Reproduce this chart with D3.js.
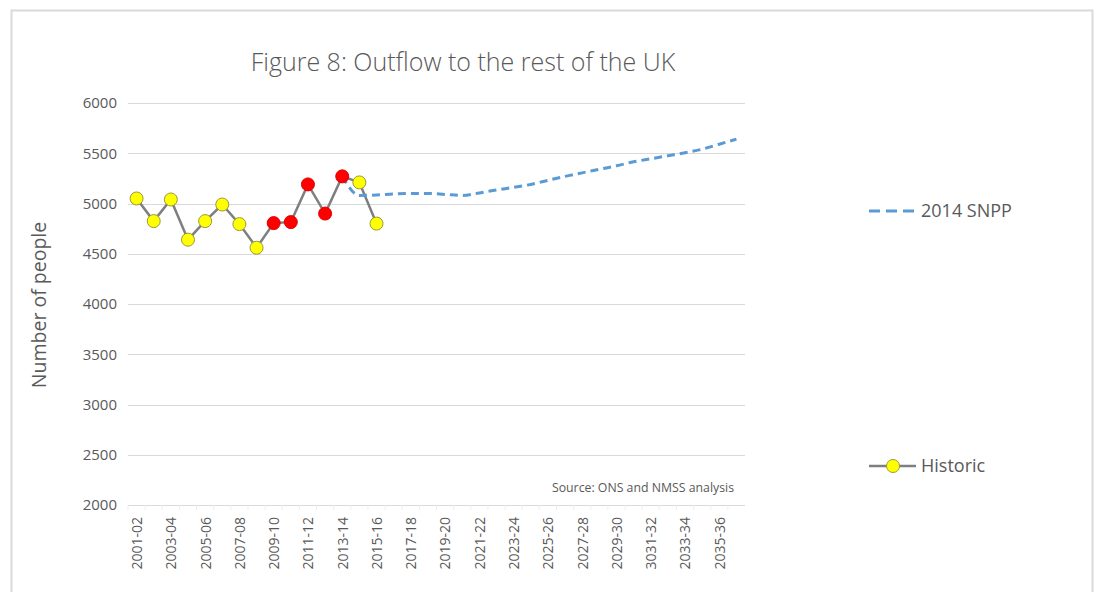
<!DOCTYPE html>
<html>
<head>
<meta charset="utf-8">
<script src="https://cdn.jsdelivr.net/npm/d3@7"></script>
<style>
  body { margin: 0; background: #fff; }
  text { font-family: "Open Sans", sans-serif; fill: #595959; }
</style>
</head>
<body>
<div id="wrapper"></div>
<script>
const HIST_LINE = "#7f7f7f";
const YELLOW = "#ffff00";
const RED = "#ff0000";
const SNPP_COLOR = "#5b9bd5";
const GRID_COLOR = "#d9d9d9";

// all periods on the x axis
const periods = [
  "2001-02", "2002-03", "2003-04", "2004-05", "2005-06", "2006-07",
  "2007-08", "2008-09", "2009-10", "2010-11", "2011-12", "2012-13",
  "2013-14", "2014-15", "2015-16", "2016-17", "2017-18", "2018-19",
  "2019-20", "2020-21", "2021-22", "2022-23", "2023-24", "2024-25",
  "2025-26", "2026-27", "2027-28", "2028-29", "2029-30", "2030-31",
  "2031-32", "2032-33", "2033-34", "2034-35", "2035-36", "2036-37"
];

// only every other period gets a label (typo kept from the original)
const tickPeriods = [
  "2001-02", "2003-04", "2005-06", "2007-08", "2009-10", "2011-12",
  "2013-14", "2015-16", "2017-18", "2019-20", "2021-22", "2023-24",
  "2025-26", "2027-28", "2029-30", "2031-32", "2033-34", "2035-36"
];
const tickLabels = [
  "2001-02", "2003-04", "2005-06", "2007-08", "2009-10", "2011-12",
  "2013-14", "2015-16", "2017-18", "2019-20", "2021-22", "2023-24",
  "2025-26", "2027-28", "2029-30", "3031-32", "2033-34", "2035-36"
];

const yTicks = [2000, 2500, 3000, 3500, 4000, 4500, 5000, 5500, 6000];

const historicPeriods = periods.slice(0, 15);
const historicValues = [5050, 4825, 5040, 4640, 4825, 4990, 4795, 4560,
  4805, 4815, 5190, 4900, 5270, 5210, 4800];
// points shown in red
const redPeriods = ["2009-10", "2010-11", "2011-12", "2012-13", "2013-14"];

const snppPeriods = periods.slice(12);
const snppValues = [5270, 5080, 5085, 5095, 5100, 5100, 5090, 5080, 5105,
  5135, 5160, 5190, 5230, 5270, 5305, 5340, 5375, 5415, 5445, 5475, 5505,
  5540, 5590, 5640];

function drawChart() {
  let dimensions = {
    width: 1098,
    height: 592,
    margin: { top: 103, right: 353, bottom: 87, left: 128 }
  };
  dimensions.boundedWidth = dimensions.width
    - dimensions.margin.left - dimensions.margin.right;
  dimensions.boundedHeight = dimensions.height
    - dimensions.margin.top - dimensions.margin.bottom;

  const wrapper = d3.select("#wrapper")
    .append("svg")
    .attr("width", dimensions.width)
    .attr("height", dimensions.height);

  // chart border (bottom edge runs off the picture)
  wrapper.append("rect")
    .attr("x", 11.5)
    .attr("y", 10.5)
    .attr("width", 1081)
    .attr("height", 640)
    .attr("fill", "none")
    .attr("stroke", GRID_COLOR)
    .attr("stroke-width", 2);

  wrapper.append("text")
    .attr("x", 463)
    .attr("y", 71)
    .attr("text-anchor", "middle")
    .style("font-size", "25px")
    .style("font-weight", 300)
    .text("Figure 8: Outflow to the rest of the UK");

  const bounds = wrapper.append("g")
    .attr("transform", `translate(${dimensions.margin.left},${dimensions.margin.top})`);

  const xScale = d3.scalePoint()
    .domain(periods)
    .range([0, dimensions.boundedWidth])
    .padding(0.5);

  const yScale = d3.scaleLinear()
    .domain([2000, 6000])
    .range([dimensions.boundedHeight, 0]);

  // gridlines
  bounds.append("g")
    .selectAll("line")
    .data(yTicks)
    .join("line")
    .attr("x1", 0)
    .attr("x2", dimensions.boundedWidth)
    .attr("y1", d => Math.round(yScale(d)) + 0.5)
    .attr("y2", d => Math.round(yScale(d)) + 0.5)
    .attr("stroke", GRID_COLOR)
    .attr("stroke-width", 1.2);

  const yAxis = bounds.append("g")
    .call(d3.axisLeft(yScale)
      .tickValues(yTicks)
      .tickFormat(d3.format("d"))
      .tickSize(0)
      .tickPadding(11));
  yAxis.select(".domain").remove();
  yAxis.selectAll("text")
    .style("font-size", "15px")
    .style("font-family", "Open Sans, sans-serif")
    .attr("fill", "#595959");

  const xAxis = bounds.append("g")
    .attr("transform", `translate(0,${dimensions.boundedHeight})`)
    .call(d3.axisBottom(xScale)
      .tickValues(tickPeriods)
      .tickFormat((d, i) => tickLabels[i])
      .tickSize(0));
  xAxis.select(".domain").remove();
  xAxis.selectAll("text")
    .attr("transform", "rotate(-90)")
    .attr("x", -12)
    .attr("y", 0)
    .attr("dy", "0.35em")
    .attr("text-anchor", "end")
    .style("font-size", "14px")
    .style("font-family", "Open Sans, sans-serif")
    .attr("fill", "#595959");

  // faint tick marks between categories
  const step = xScale.step();
  bounds.append("g")
    .selectAll("line")
    .data(periods)
    .join("line")
    .attr("x1", d => xScale(d) - step / 2)
    .attr("x2", d => xScale(d) - step / 2)
    .attr("y1", dimensions.boundedHeight)
    .attr("y2", dimensions.boundedHeight + 5)
    .attr("stroke", "#eeeeee");

  wrapper.append("text")
    .attr("transform", "translate(46,305) rotate(-90)")
    .attr("text-anchor", "middle")
    .style("font-size", "19.5px")
    .text("Number of people");

  bounds.append("text")
    .attr("x", 606)
    .attr("y", dimensions.boundedHeight - 13)
    .attr("text-anchor", "end")
    .style("font-size", "12.3px")
    .text("Source: ONS and NMSS analysis");

  // historic line
  const histData = historicPeriods.map((p, i) => ({ period: p, value: historicValues[i] }));
  const line = d3.line()
    .x(d => xScale(d.period))
    .y(d => yScale(d.value));

  bounds.append("path")
    .datum(histData)
    .attr("d", line)
    .attr("fill", "none")
    .attr("stroke", HIST_LINE)
    .attr("stroke-width", 2.5);

  // projection
  const snppData = snppPeriods.map((p, i) => ({ period: p, value: snppValues[i] }));
  bounds.append("path")
    .datum(snppData)
    .attr("d", line.curve(d3.curveMonotoneX))
    .attr("fill", "none")
    .attr("stroke", SNPP_COLOR)
    .attr("stroke-width", 3)
    .attr("stroke-dasharray", "8 5");

  bounds.append("g")
    .selectAll("circle")
    .data(histData)
    .join("circle")
    .attr("cx", d => xScale(d.period))
    .attr("cy", d => yScale(d.value))
    .attr("r", 6.5)
    .attr("fill", d => redPeriods.includes(d.period) ? RED : YELLOW)
    .attr("stroke", d => redPeriods.includes(d.period) ? "#e00000" : "#9a9a3a")
    .attr("stroke-width", 1);

  // legend
  const legend = wrapper.append("g");
  legend.append("line")
    .attr("x1", 869).attr("x2", 917)
    .attr("y1", 211).attr("y2", 211)
    .attr("stroke", SNPP_COLOR)
    .attr("stroke-width", 3)
    .attr("stroke-dasharray", "11 6");
  legend.append("text")
    .attr("x", 921).attr("y", 211)
    .attr("dy", "0.35em")
    .style("font-size", "18px")
    .text("2014 SNPP");

  legend.append("line")
    .attr("x1", 869).attr("x2", 916)
    .attr("y1", 466).attr("y2", 466)
    .attr("stroke", HIST_LINE)
    .attr("stroke-width", 2.5);
  legend.append("circle")
    .attr("cx", 893).attr("cy", 466)
    .attr("r", 6.5)
    .attr("fill", YELLOW)
    .attr("stroke", "#9a9a3a");
  legend.append("text")
    .attr("x", 921).attr("y", 466)
    .attr("dy", "0.35em")
    .style("font-size", "18px")
    .text("Historic");
}

drawChart();
</script>
</body>
</html>
